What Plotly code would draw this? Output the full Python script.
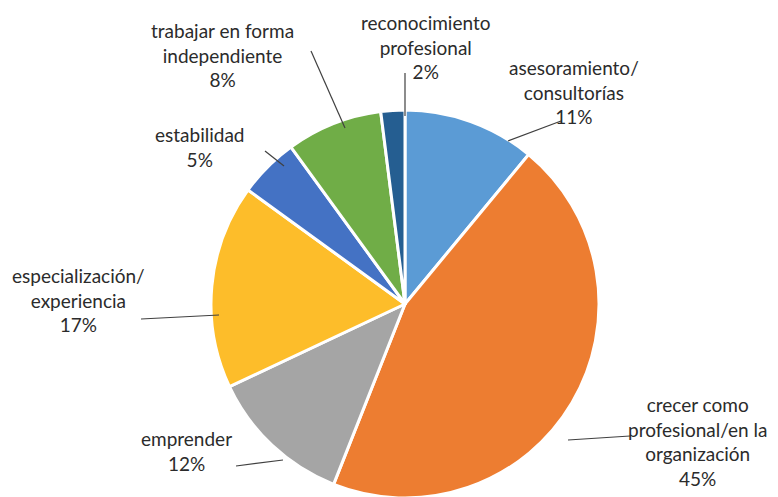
import plotly.graph_objects as go

labels = ["asesoramiento/<br>consultorías", "crecer como<br>profesional/en la<br>organización",
          "emprender", "especialización/<br>experiencia", "estabilidad",
          "trabajar en forma<br>independiente", "reconocimiento<br>profesional"]
values = [11, 45, 12, 17, 5, 8, 2]
colors = ["#5B9BD5", "#ED7D31", "#A5A5A5", "#FDBD2A", "#4472C4", "#70AD47", "#255E91"]

W, H = 778, 497
def px(x): return x / W
def py(y): return 1 - y / H

cx, cy, r = 397, 296, 194

fig = go.Figure(go.Pie(
    values=values, labels=labels, sort=False, direction="clockwise", rotation=0,
    marker=dict(colors=colors, line=dict(color="white", width=3)),
    textinfo="none", hoverinfo="label+percent", showlegend=False,
    domain=dict(x=[px(cx - r), px(cx + r)], y=[py(cy + r), py(cy - r)]),
))

# label text positions (pixel centers) and leader lines
label_pos = [(566, 84), (689, 433), (178, 443), (70, 292), (191, 139), (214, 47), (417, 39)]
leaders = [((500, 133), (553, 113)), ((560, 432), (622, 428)), ((228, 458), (275, 452)),
           ((133, 311), (211, 307)), ((257, 143), (276, 158)), ((303, 43), (337, 120)),
           ((397, 65), (397, 108))]

total = sum(values)
for lab, v, (x, y) in zip(labels, values, label_pos):
    fig.add_annotation(x=px(x), y=py(y), xref="paper", yref="paper",
                       text=f"{lab}<br>{round(100 * v / total)}%", showarrow=False,
                       xanchor="center", yanchor="middle", align="center",
                       font=dict(family="Lato", size=19, color="#2b2b2b"))
for (a, b) in leaders:
    fig.add_shape(type="line", xref="paper", yref="paper",
                  x0=px(a[0]), y0=py(a[1]), x1=px(b[0]), y1=py(b[1]),
                  line=dict(color="#404040", width=1.2))

fig.update_layout(width=W, height=H, margin=dict(l=0, r=0, t=0, b=0),
                  paper_bgcolor="white", plot_bgcolor="white")
fig.write_html("out.html")
